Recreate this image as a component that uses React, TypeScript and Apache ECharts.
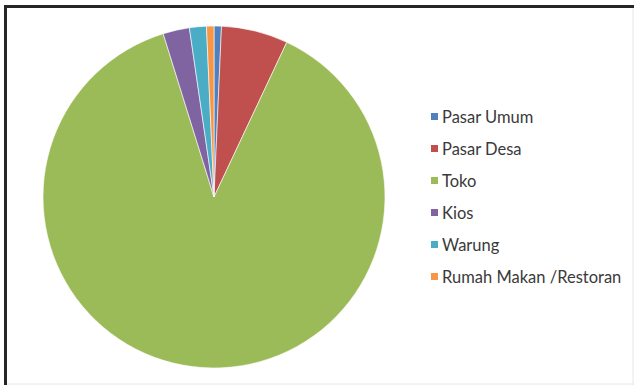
import React, { useEffect, useRef } from "react";
import * as echarts from "echarts";

const categories = ["Pasar Umum", "Pasar Desa", "Toko", "Kios", "Warung", "Rumah Makan /Restoran"];
const values = [0.7, 6.3, 88.2, 2.5, 1.6, 0.7];
const colors = ["#4F81BD", "#C0504D", "#9BBB59", "#8064A2", "#4BACC6", "#F79646"];

export default function App() {
  const ref = useRef<HTMLDivElement>(null);
  useEffect(() => {
    if (!ref.current) return;
    const chart = echarts.init(ref.current, null, { renderer: "svg" });
    chart.setOption({
      animation: false,
      backgroundColor: "#ffffff",
      color: colors,
      legend: {
        orient: "vertical",
        left: 431,
        top: 108,
        padding: 0,
        itemWidth: 7,
        itemHeight: 7,
        itemGap: 15,
        icon: "rect",
        itemStyle: { borderWidth: 0 },
        data: categories,
        textStyle: {
          fontFamily: "Lato, 'Open Sans', sans-serif",
          fontSize: 16.5,
          lineHeight: 17,
          color: "#3a3a3a",
          padding: [0, 0, 0, -1],
        },
      },
      graphic: [
        { type: "rect", shape: { x: 4, y: 5, width: 630, height: 3 }, style: { fill: "#262626" } },
        { type: "rect", shape: { x: 4, y: 5, width: 3, height: 380 }, style: { fill: "#262626" } },
        { type: "line", shape: { x1: 633, y1: 8, x2: 633, y2: 385 }, style: { stroke: "#e6e6e6", lineWidth: 1 } },
        { type: "line", shape: { x1: 7, y1: 384, x2: 634, y2: 384 }, style: { stroke: "#e6e6e6", lineWidth: 1 } },
      ],
      series: [
        {
          type: "pie",
          center: [214, 197],
          radius: 171,
          startAngle: 90,
          clockwise: true,
          label: { show: false },
          labelLine: { show: false },
          itemStyle: { borderColor: "#ffffff", borderWidth: 0.6 },
          emphasis: { disabled: true },
          data: categories.map((name, i) => ({ name, value: values[i] })),
        },
      ],
    });
    return () => chart.dispose();
  }, []);
  return (
    <div
      ref={ref}
      style={{ position: "fixed", left: 0, top: 0, width: 634, height: 385 }}
    />
  );
}
